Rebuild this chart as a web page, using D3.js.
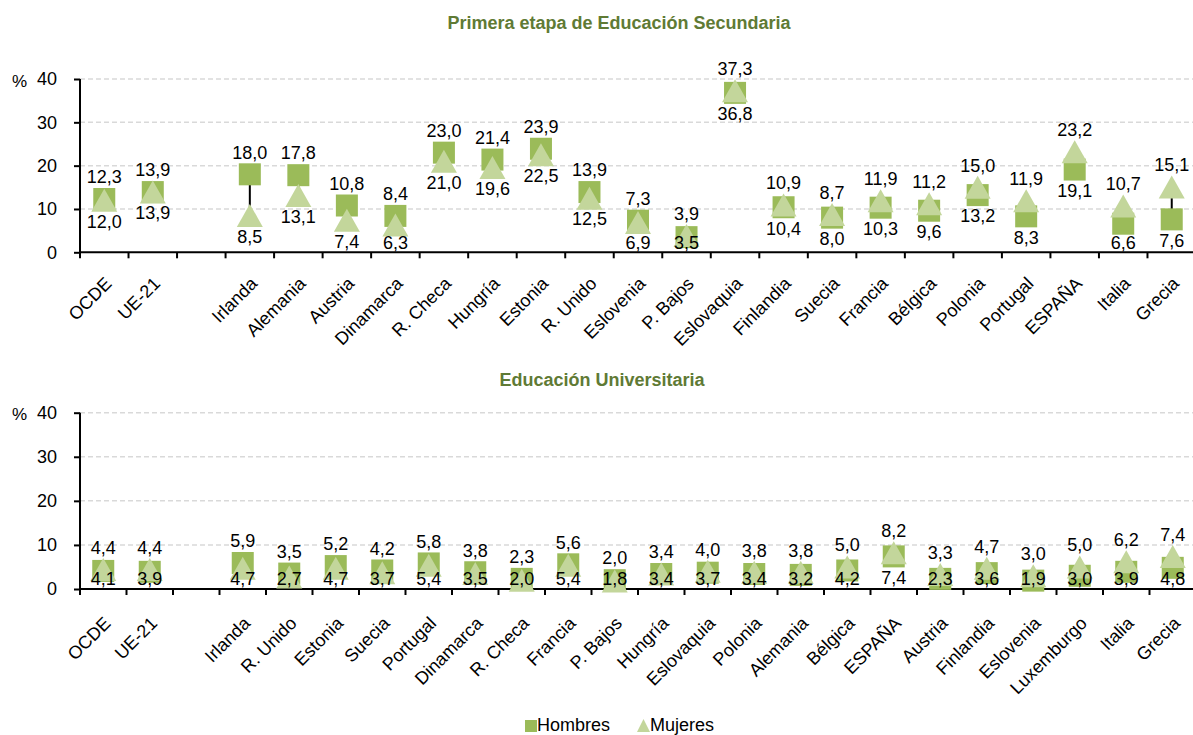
<!DOCTYPE html>
<html>
<head>
<meta charset="utf-8">
<script src="https://cdn.jsdelivr.net/npm/d3@7/dist/d3.min.js"></script>
<style>
  body { margin: 0; background: #fff; }
  svg { font-family: "Liberation Sans", Arial, sans-serif; }
  .grid line { stroke: #d9d9d9; stroke-width: 1.5; stroke-dasharray: 5,3; }
  .axis path, .axis line { stroke: #000; stroke-width: 2; }
  .axis text { fill: #000; font-size: 18px; }
  .label { font-size: 18px; fill: #000; text-anchor: middle; }
  .title { font-size: 18px; font-weight: bold; fill: #5f7a35; text-anchor: middle; }
</style>
</head>
<body>
<svg id="chart" width="1193" height="735"></svg>
<script>
// Primera etapa de Educación Secundaria
const countriesSec = ["OCDE","UE-21","Irlanda","Alemania","Austria","Dinamarca","R. Checa","Hungría","Estonia","R. Unido","Eslovenia","P. Bajos","Eslovaquia","Finlandia","Suecia","Francia","Bélgica","Polonia","Portugal","ESPAÑA","Italia","Grecia"];
const hombresSec = [12.3,13.9,18.0,17.8,10.8,8.4,23.0,21.4,23.9,13.9,7.3,3.5,36.8,10.4,8.0,10.3,9.6,13.2,8.3,19.1,6.6,7.6];
const mujeresSec = [12.0,13.9,8.5,13.1,7.4,6.3,21.0,19.6,22.5,12.5,6.9,3.9,37.3,10.9,8.7,11.9,11.2,15.0,11.9,23.2,10.7,15.1];

// Educación Universitaria
const countriesUni = ["OCDE","UE-21","Irlanda","R. Unido","Estonia","Suecia","Portugal","Dinamarca","R. Checa","Francia","P. Bajos","Hungría","Eslovaquia","Polonia","Alemania","Bélgica","ESPAÑA","Austria","Finlandia","Eslovenia","Luxemburgo","Italia","Grecia"];
const hombresUni = [4.1,3.9,5.9,3.5,5.2,4.2,5.8,3.8,2.3,5.6,2.0,3.4,3.7,3.4,3.2,4.2,7.4,2.3,3.6,1.9,3.0,3.9,4.8];
const mujeresUni = [4.4,4.4,4.7,2.7,4.7,3.7,5.4,3.5,2.0,5.4,1.8,3.4,4.0,3.8,3.8,5.0,8.2,3.3,4.7,3.0,5.0,6.2,7.4];

const yTicks = [0, 10, 20, 30, 40];
const colHombres = "#9bbb59";
const colMujeres = "#c3d69b";

const svg = d3.select("#chart");
const fmt = v => d3.format(".1f")(v).replace(".", ",");

function drawPanel(cfg) {
    // insert an empty slot after the two averages
    const domain = [cfg.countries[0], cfg.countries[1], "__gap"].concat(cfg.countries.slice(2));
    const rows = cfg.countries.map((c, i) => ({c: c, h: cfg.hombres[i], m: cfg.mujeres[i]}));

    const x = d3.scaleBand().domain(domain).range([80, 1196]).paddingInner(0).paddingOuter(0);
    const y = d3.scaleLinear().domain([0, 40]).range([cfg.y0, cfg.y40]);
    const g = svg.append("g");

    g.append("text").attr("class", "title")
        .attr("x", cfg.titleX).attr("y", cfg.titleY).text(cfg.title);

    // gridlines
    g.append("g").attr("class", "grid")
        .selectAll("line").data(yTicks.slice(1)).join("line")
        .attr("x1", 80).attr("x2", 1193)
        .attr("y1", d => y(d)).attr("y2", d => y(d));

    // axes
    const yAxis = g.append("g").attr("class", "axis")
        .attr("transform", "translate(80,0)")
        .call(d3.axisLeft(y).tickValues(yTicks).tickSize(6).tickPadding(17));
    yAxis.select(".domain").attr("d", "M0," + y(0) + "V" + y(40));

    g.append("text").attr("x", 12).attr("y", y(40)).attr("dy", "0.45em")
        .style("font-size", "17px").text("%");

    const xAxis = g.append("g").attr("class", "axis")
        .attr("transform", "translate(0," + y(0) + ")")
        .call(d3.axisBottom(x).tickValues([]).tickSizeOuter(0));
    xAxis.select(".domain").attr("d", "M80,0H1196");
    xAxis.selectAll(".tk").data(domain).join("line")
        .attr("class", "tk")
        .attr("x1", d => x(d)).attr("x2", d => x(d))
        .attr("y1", 0).attr("y2", 6);
    xAxis.selectAll(".cat").data(cfg.countries).join("text")
        .attr("class", "cat")
        .attr("text-anchor", "end")
        .attr("dy", "0.35em")
        .attr("transform", d => "translate(" + (x(d) + x.bandwidth() / 2 + 4) + "," + cfg.catOffset + ") rotate(-45)")
        .style("font-size", "18px")
        .text(d => d);

    const cx = d => x(d.c) + x.bandwidth() / 2;

    // high-low line
    g.append("g").selectAll("line").data(rows).join("line")
        .attr("x1", cx).attr("x2", cx)
        .attr("y1", d => y(d.h)).attr("y2", d => y(d.m))
        .attr("stroke", "#000").attr("stroke-width", 2);

    // Hombres squares
    g.append("g").selectAll("rect").data(rows).join("rect")
        .attr("x", d => cx(d) - 11).attr("y", d => y(d.h) - 11)
        .attr("width", 22).attr("height", 22)
        .attr("fill", colHombres);

    // Mujeres triangles
    g.append("g").selectAll("path").data(rows).join("path")
        .attr("d", d => {
            const px = cx(d), py = y(d.m);
            return "M" + px + "," + (py - 11.5) + "L" + (px + 13) + "," + (py + 11.5) + "L" + (px - 13) + "," + (py + 11.5) + "Z";
        })
        .attr("fill", colMujeres);

    // value labels: max above, min below (kept inside the plot area)
    g.append("g").selectAll("text").data(rows).join("text")
        .attr("class", "label")
        .attr("x", cx).attr("y", d => y(Math.max(d.h, d.m)) - 22).attr("dy", "0.35em")
        .text(d => fmt(Math.max(d.h, d.m)));
    g.append("g").selectAll("text").data(rows).join("text")
        .attr("class", "label")
        .attr("x", cx).attr("y", d => Math.min(y(Math.min(d.h, d.m)) + 21, cfg.y0 - 10)).attr("dy", "0.35em")
        .text(d => fmt(Math.min(d.h, d.m)));
}

drawPanel({
    title: "Primera etapa de Educación Secundaria", titleX: 619, titleY: 29,
    countries: countriesSec, hombres: hombresSec, mujeres: mujeresSec,
    y0: 252.3, y40: 79, catOffset: 28
});
drawPanel({
    title: "Educación Universitaria", titleX: 602, titleY: 386,
    countries: countriesUni, hombres: hombresUni, mujeres: mujeresUni,
    y0: 589, y40: 412.7, catOffset: 31
});

// legend
const legend = svg.append("g").style("font-size", "18px");
legend.append("rect").attr("x", 525).attr("y", 720).attr("width", 12).attr("height", 12).attr("fill", colHombres);
legend.append("text").attr("x", 537).attr("y", 731).text("Hombres");
legend.append("path").attr("d", "M643.5,719L650,732H637Z").attr("fill", colMujeres);
legend.append("text").attr("x", 650).attr("y", 731).text("Mujeres");
</script>
</body>
</html>
